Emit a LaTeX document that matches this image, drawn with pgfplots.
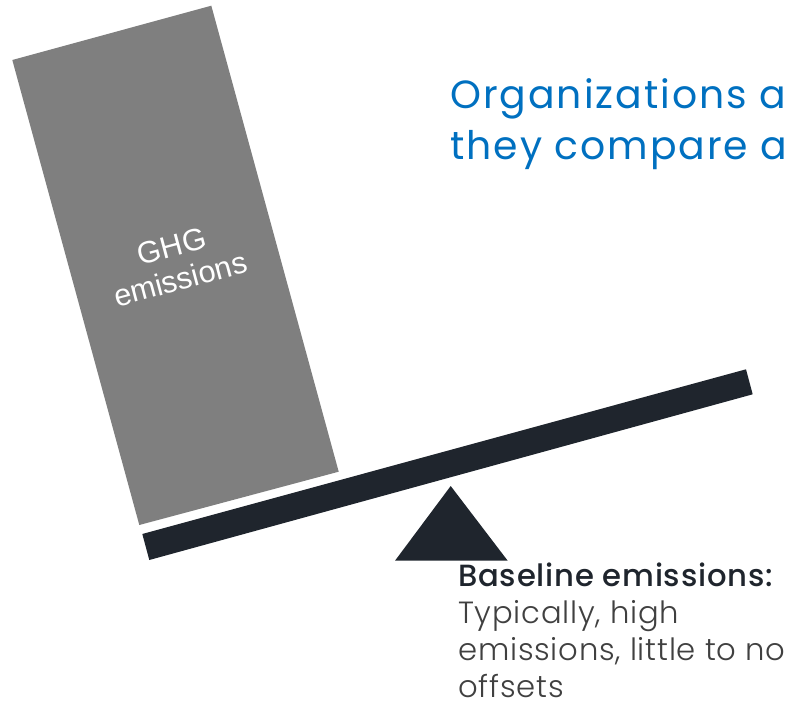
\documentclass[border=0pt]{standalone}
\usepackage{pgfplots}
\pgfplotsset{compat=1.18}
\usepackage{fontspec}
\setmainfont{Poppins}
\newfontfamily\titlefont{Poppins}[LetterSpace=5]
\IfFontExistsTF{Poppins Light}{\newfontfamily\lightfont{Poppins Light}[LetterSpace=2.5]}{\newfontfamily\lightfont{Poppins}[LetterSpace=2.5]}
\IfFontExistsTF{Poppins Medium}{\newfontfamily\medfont{Poppins Medium}[LetterSpace=2.5]}{\newfontfamily\medfont{Poppins}[LetterSpace=2.5]}
\newfontfamily\arialfont{Liberation Sans}

\definecolor{titleblue}{HTML}{0070C0}
\definecolor{beamdark}{HTML}{1F252D}
\definecolor{boxgray}{HTML}{7F7F7F}
\definecolor{textgray}{HTML}{404040}

\begin{document}
\begin{tikzpicture}
% 1 px of the reference = 0.75pt
\begin{axis}[
  at={(0,0)}, anchor=south west,
  scale only axis,
  width=589.5pt, height=530.25pt,
  xmin=0, xmax=786, ymin=0, ymax=707,
  y dir=reverse, % pixel coordinates, y down
  hide axis,
  clip=false
]
% GHG emissions block
\addplot[fill=boxgray, draw=none] coordinates {(12.3,60) (211.3,5.7) (338.7,471.7) (139.3,525)} -- cycle;
% beam
\addplot[fill=beamdark, draw=none] coordinates {(142.3,534) (746,369.3) (752.7,394.3) (149.3,560)} -- cycle;
% fulcrum
\addplot[fill=beamdark, draw=none] coordinates {(450.7,486) (507.7,560.7) (395,560.7)} -- cycle;

\node[rotate=15, text=white, align=center, font=\arialfont\fontsize{23pt}{25.4pt}\selectfont]
  at (axis cs:176,263) {GHG\\emissions};

% base anchor of a multi-line node sits on its last line
\node[anchor=base west, text=titleblue, align=left, inner sep=0pt,
  font=\titlefont\fontsize{29.5pt}{38.25pt}\selectfont]
  at (axis cs:450,159) {Organizations a\\they compare a};

\node[anchor=base west, align=left, inner sep=0pt,
  font=\lightfont\fontsize{23pt}{27.75pt}\selectfont]
  at (axis cs:458,697) {{\medfont\color{beamdark}Baseline emissions:}\\
  \color{textgray}Typically, high\\
  \color{textgray}emissions, little to no\\
  \color{textgray}offsets};
\end{axis}
\pgfresetboundingbox
\path[use as bounding box] (0,0) rectangle (589.5pt,530.25pt);
\end{tikzpicture}
\end{document}
